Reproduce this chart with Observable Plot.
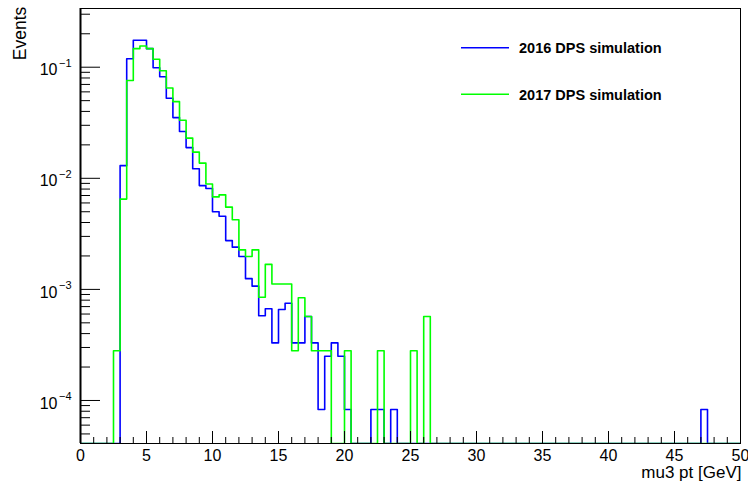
<!DOCTYPE html>
<html><head><meta charset="utf-8">
<script src="https://cdn.jsdelivr.net/npm/d3@7"></script>
<script src="https://cdn.jsdelivr.net/npm/@observablehq/plot@0.6"></script>
<style>
html,body{margin:0;padding:0;background:#fff;}
#chart{width:748px;height:485px;overflow:hidden;position:relative;}
svg{display:block;}
</style></head><body><div id="chart"></div>
<script>
// ---- data (bin lower edges, bin width 0.5 GeV) ----
const binWidth = 0.5;
const xRange = [0, 50];
const bins2016 = [3.0,3.5,4.0,4.5,5.0,5.5,6.0,6.5,7.0,7.5,8.0,8.5,9.0,9.5,10.0,10.5,11.0,11.5,12.0,12.5,13.0,13.5,14.0,14.5,15.0,15.5,16.0,16.5,17.0,17.5,18.0,18.5,19.0,19.5,20.0,22.0,22.5,23.5,47.0];
const values2016 = [0.0130,0.119,0.175,0.175,0.147,0.099,0.082,0.0526,0.0352,0.0264,0.0189,0.0122,0.0086,0.0081,0.0050,0.00456,0.00275,0.0024,0.00198,0.00125,0.00107,0.00058,0.00067,0.00033,0.00066,0.00075,0.00033,0.00033,0.00057,0.00033,0.000083,0.00025,0.00033,0.00025,0.000083,0.000083,0.000083,0.000083,0.000083];
const bins2017 = [2.5,3.0,3.5,4.0,4.5,5.0,5.5,6.0,6.5,7.0,7.5,8.0,8.5,9.0,9.5,10.0,10.5,11.0,11.5,12.0,12.5,13.0,13.5,14.0,14.5,15.0,15.5,16.0,16.5,17.0,17.5,18.0,18.5,20.0,22.5,25.0,26.0];
const values2017 = [0.00028,0.0065,0.076,0.147,0.155,0.147,0.118,0.093,0.065,0.049,0.0333,0.023,0.0172,0.0137,0.0089,0.0068,0.0071,0.0055,0.00423,0.00227,0.00198,0.00227,0.00085,0.00168,0.00112,0.00112,0.00112,0.00028,0.00084,0.00057,0.00028,0.00028,0.00028,0.00028,0.00028,0.00028,0.00057];
const seriesNames = ["2016 DPS simulation", "2017 DPS simulation"];
const seriesColors = ["#0000ff", "#00ff00"];
const xMajorTicks = [0,5,10,15,20,25,30,35,40,45,50];
const xMinorTicks = d3.range(0, 51, 1);
const yDecades = [1e-4, 1e-3, 1e-2, 1e-1];
const yDomain = [4.1e-5, 0.3377];
const yMinorTicks = [1e-5,1e-4,1e-3,1e-2,1e-1].flatMap(d => [2,3,4,5,6,7,8,9].map(m => m*d)).filter(v => v >= yDomain[0] && v <= yDomain[1]);
const xTitle = "mu3 pt [GeV]";
const yTitle = "Events";

function fullHist(lows, vals) {
  const n = Math.round((xRange[1] - xRange[0]) / binWidth);
  const arr = new Array(n).fill(0);
  lows.forEach((l, i) => { arr[Math.round((l - xRange[0]) / binWidth)] = vals[i]; });
  const pts = arr.map((v, i) => ({x: xRange[0] + i * binWidth, y: Math.max(v, yDomain[0])}));
  pts.push({x: xRange[1], y: pts[pts.length - 1].y});
  return pts;
}
const h2016 = fullHist(bins2016, values2016);
const h2017 = fullHist(bins2017, values2017);

const font = "'Liberation Sans', Arial, Helvetica, sans-serif";
const plot = Plot.plot({
  width: 748, height: 485,
  marginLeft: 80, marginRight: 8, marginTop: 8, marginBottom: 42,
  style: {fontFamily: font, fontSize: "16px", color: "black", background: "white", overflow: "hidden"},
  x: {domain: xRange, label: null},
  y: {type: "log", domain: yDomain, label: null},
  marks: [
    Plot.line(h2016, {x: "x", y: "y", curve: "step-after", stroke: seriesColors[0], strokeWidth: 1.6, clip: true}),
    Plot.line(h2017, {x: "x", y: "y", curve: "step-after", stroke: seriesColors[1], strokeWidth: 1.6, clip: true}),
    Plot.frame({stroke: "black", strokeWidth: 1}),
    Plot.axisX({ticks: xMinorTicks, tickSize: -6, tickFormat: () => "", label: null}),
    Plot.axisX({ticks: xMajorTicks, tickSize: -12, tickFormat: () => "", label: null}),
    Plot.axisX({ticks: xMajorTicks, tickSize: 0, tickPadding: 6, tickFormat: d => String(d), label: null, fontSize: 16}),
    Plot.axisY({ticks: yMinorTicks, tickSize: -10, tickFormat: () => "", label: null}),
    Plot.axisY({ticks: yDecades, tickSize: -20, tickFormat: () => "", label: null}),
    Plot.text(yDecades, {y: d => d, frameAnchor: "left", text: () => "10", textAnchor: "end", dx: -23, dy: 3, fontSize: 16}),
    Plot.text(yDecades, {y: d => d, frameAnchor: "left", text: d => "\u2212" + Math.round(-Math.log10(d)), textAnchor: "end", dx: -9, dy: -4, fontSize: 11}),
    Plot.ruleX([0], {strokeWidth: 2})
  ]
});
document.getElementById("chart").appendChild(plot);

const svg = d3.select(plot);
svg.append("text").attr("transform", "translate(26,6.7) rotate(-90)")
  .attr("text-anchor", "end").attr("font-size", 17.5).attr("font-family", font).text(yTitle);
svg.append("text").attr("x", 741.5).attr("y", 477.5)
  .attr("text-anchor", "end").attr("font-size", 17).attr("font-family", font).text(xTitle);
const leg = svg.append("g");
seriesNames.forEach((name, i) => {
  const y = 47.7 + i * 46.6;
  leg.append("line").attr("x1", 461).attr("x2", 509).attr("y1", y).attr("y2", y)
    .attr("stroke", seriesColors[i]).attr("stroke-width", 1.6);
  leg.append("text").attr("x", 519).attr("y", y + 5.3).attr("font-size", 14.5)
    .attr("text-anchor", "start").attr("font-weight", "bold").attr("font-family", font).text(name);
});
</script>
</body></html>
